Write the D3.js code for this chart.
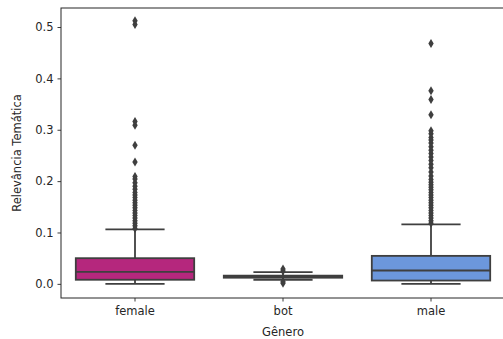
<!DOCTYPE html>
<html>
<head>
<meta charset="utf-8">
<script src="https://cdn.jsdelivr.net/npm/d3@7"></script>
<style>
  body { margin: 0; background: #fff; }
  svg text { font-family: "DejaVu Sans", sans-serif; fill: #262626; }
</style>
</head>
<body>
<div class="canvas"></div>
<script>
// categories and box stats
const categories = ["female", "bot", "male"];
const q1 = [0.008, 0.012, 0.0065];
const median = [0.0235, 0.0142, 0.026];
const q3 = [0.050, 0.016, 0.0545];
const whiskerLow = [0.0, 0.008, 0.0];
const whiskerHigh = [0.106, 0.023, 0.116];

// outliers per category
const femaleOutliers = [
  0.108, 0.113, 0.118, 0.123, 0.128, 0.133, 0.138, 0.143, 0.148, 0.153,
  0.158, 0.163, 0.168, 0.173, 0.178, 0.184, 0.190, 0.197, 0.204, 0.209,
  0.237, 0.270, 0.309, 0.316, 0.505, 0.512
];
const botOutliers = [0.025, 0.029, 0.001, 0.004];
const maleOutliers = [
  0.118, 0.123, 0.128, 0.133, 0.138, 0.143, 0.148, 0.153, 0.158, 0.163,
  0.168, 0.173, 0.178, 0.183, 0.188, 0.193, 0.198, 0.203, 0.210, 0.218,
  0.226, 0.233, 0.240, 0.247, 0.254, 0.260, 0.267, 0.274, 0.280, 0.285,
  0.292, 0.298, 0.329, 0.359, 0.376, 0.468
];
const outliers = [femaleOutliers, botOutliers, maleOutliers];

const yTicks = [0.0, 0.1, 0.2, 0.3, 0.4, 0.5];
const colors = ["#b5277d", "#3c3c3c", "#6c97dc"];

// dimensions
const dims = { width: 503, height: 339 };
const margin = { left: 61, top: 8, right: -2, bottom: 41 };
const innerW = dims.width - margin.left - margin.right;
const innerH = dims.height - margin.top - margin.bottom;
const lineColor = "#3f3f3f";

const svg = d3
  .select(".canvas")
  .append("svg")
  .attr("width", dims.width)
  .attr("height", dims.height);

const graph = svg
  .append("g")
  .attr("transform", `translate(${margin.left}, ${margin.top})`);

const x = d3.scaleBand().domain(categories).range([0, innerW]);
const y = d3.scaleLinear().domain([-0.0275, 0.537]).range([innerH, 0]);

const boxW = x.bandwidth() * 0.8;
const capW = boxW / 2;

const boxes = graph
  .selectAll("g.box")
  .data(categories)
  .enter()
  .append("g")
  .attr("class", "box")
  .attr("transform", d => `translate(${x(d) + x.bandwidth() / 2}, 0)`);

// whisker lines
boxes.append("line")
  .attr("y1", (d, i) => y(whiskerLow[i]))
  .attr("y2", (d, i) => y(q1[i]))
  .attr("stroke", lineColor).attr("stroke-width", 1.8);
boxes.append("line")
  .attr("y1", (d, i) => y(q3[i]))
  .attr("y2", (d, i) => y(whiskerHigh[i]))
  .attr("stroke", lineColor).attr("stroke-width", 1.8);

// caps
boxes.append("line")
  .attr("x1", -capW / 2).attr("x2", capW / 2)
  .attr("y1", (d, i) => y(whiskerLow[i]))
  .attr("y2", (d, i) => y(whiskerLow[i]))
  .attr("stroke", lineColor).attr("stroke-width", 1.8);
boxes.append("line")
  .attr("x1", -capW / 2).attr("x2", capW / 2)
  .attr("y1", (d, i) => y(whiskerHigh[i]))
  .attr("y2", (d, i) => y(whiskerHigh[i]))
  .attr("stroke", lineColor).attr("stroke-width", 1.8);

// box
boxes.append("rect")
  .attr("x", -boxW / 2)
  .attr("width", boxW)
  .attr("y", (d, i) => y(q3[i]))
  .attr("height", (d, i) => y(q1[i]) - y(q3[i]))
  .attr("fill", (d, i) => colors[i])
  .attr("stroke", lineColor)
  .attr("stroke-width", 1.8);

// median
boxes.append("line")
  .attr("x1", -boxW / 2).attr("x2", boxW / 2)
  .attr("y1", (d, i) => y(median[i]))
  .attr("y2", (d, i) => y(median[i]))
  .attr("stroke", lineColor).attr("stroke-width", 1.8);

// outliers - thin diamonds
const diamond = "M0,-4.5 L2.7,0 L0,4.5 L-2.7,0 Z";
boxes.each(function(d, i) {
  d3.select(this)
    .selectAll("path.flier")
    .data(outliers[i])
    .enter()
    .append("path")
    .attr("class", "flier")
    .attr("d", diamond)
    .attr("transform", v => `translate(0, ${y(v)})`)
    .attr("fill", lineColor);
});

// axes
const yAxis = d3.axisLeft(y).tickValues(yTicks).tickFormat(d3.format(".1f")).tickSize(3.5).tickPadding(4);
const xAxis = d3.axisBottom(x).tickSize(3.5).tickPadding(5);

const yG = graph.append("g").call(yAxis);
const xG = graph.append("g").attr("transform", `translate(0, ${innerH})`).call(xAxis);

[yG, xG].forEach(g => {
  g.select(".domain").remove();
  g.selectAll("line").attr("stroke", "#262626").attr("stroke-width", 0.9);
  g.selectAll("text").attr("font-size", 11.5).attr("fill", "#262626")
    .attr("font-family", "DejaVu Sans, sans-serif");
});

// frame
graph.append("rect")
  .attr("width", innerW)
  .attr("height", innerH)
  .attr("fill", "none")
  .attr("stroke", "#262626")
  .attr("stroke-width", 1);

// labels
svg.append("text")
  .attr("transform", `translate(21, ${margin.top + innerH / 2}) rotate(-90)`)
  .attr("text-anchor", "middle")
  .attr("font-size", 11.5)
  .text("Relevância Temática");

svg.append("text")
  .attr("x", margin.left + 222)
  .attr("y", 336)
  .attr("text-anchor", "middle")
  .attr("font-size", 11.5)
  .text("Gênero");
</script>
</body>
</html>
